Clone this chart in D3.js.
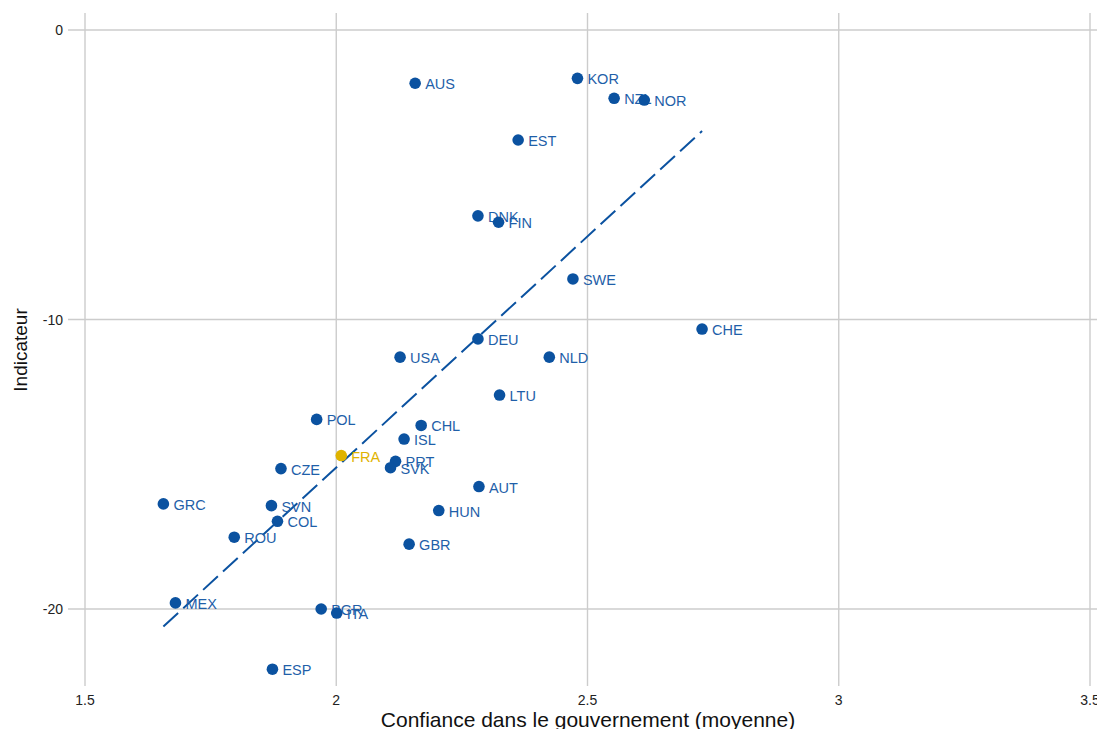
<!DOCTYPE html>
<html>
<head>
<meta charset="utf-8">
<script src="https://cdn.jsdelivr.net/npm/d3@7"></script>
<style>
body { margin: 0; background: #fff; }
text { font-family: "Liberation Sans", Arial, sans-serif; }
</style>
</head>
<body>
<script>
// données
var pays = ["AUS","KOR","NZL","NOR","EST","DNK","FIN","SWE","CHE","DEU","USA","NLD","LTU","POL","CHL","ISL","FRA","PRT","SVK","CZE","AUT","GRC","SVN","HUN","COL","ROU","GBR","MEX","BGR","ITA","ESP"];
var confiance = [2.157,2.480,2.553,2.613,2.362,2.282,2.323,2.471,2.728,2.282,2.127,2.424,2.325,1.961,2.169,2.135,2.010,2.118,2.108,1.890,2.284,1.656,1.871,2.204,1.883,1.797,2.145,1.680,1.970,2.001,1.873];
var indicateur = [-1.84,-1.67,-2.36,-2.42,-3.80,-6.42,-6.64,-8.60,-10.33,-10.67,-11.30,-11.30,-12.61,-13.45,-13.66,-14.13,-14.70,-14.90,-15.12,-15.15,-15.77,-16.37,-16.43,-16.60,-16.97,-17.52,-17.76,-19.79,-20.00,-20.14,-22.08];
var xTicks = [1.5, 2, 2.5, 3, 3.5];
var yTicks = [0, -10, -20];

var width = 1097, height = 729;
var svg = d3.select("body").append("svg")
	.attr("width", width)
	.attr("height", height);

var x = d3.scaleLinear().domain([1.5, 3.5]).range([85, 1090]);
var y = d3.scaleLinear().domain([0, -20]).range([30, 609]);

var bleu = "#0b52a0", bleuTexte = "#1f5fa9", jaune = "#dfb300";

// grille
svg.selectAll(".gx").data(xTicks).enter().append("line")
	.attr("x1", d => x(d)).attr("x2", d => x(d))
	.attr("y1", 13).attr("y2", 686)
	.attr("stroke", "#cccccc").attr("stroke-width", 1.4);
svg.selectAll(".gy").data(yTicks).enter().append("line")
	.attr("x1", 68).attr("x2", width)
	.attr("y1", d => y(d)).attr("y2", d => y(d))
	.attr("stroke", "#cccccc").attr("stroke-width", 1.4);

// étiquettes des axes
svg.selectAll(".tx").data(xTicks).enter().append("text")
	.attr("x", d => x(d)).attr("y", 705)
	.attr("text-anchor", "middle").attr("font-size", 14).attr("fill", "#222")
	.text(d => d);
svg.selectAll(".ty").data(yTicks).enter().append("text")
	.attr("x", 63).attr("y", d => y(d) + 5)
	.attr("text-anchor", "end").attr("font-size", 14).attr("fill", "#222")
	.text(d => d);

svg.append("text").attr("x", 588).attr("y", 727)
	.attr("text-anchor", "middle").attr("font-size", 21).attr("fill", "#111")
	.text("Confiance dans le gouvernement (moyenne)");
svg.append("text").attr("transform", "translate(27," + 350 + ") rotate(-90)")
	.attr("text-anchor", "middle").attr("font-size", 19).attr("fill", "#111")
	.text("Indicateur");

// droite de régression (moindres carrés)
var mx = d3.mean(confiance), my = d3.mean(indicateur);
var sxy = d3.sum(confiance, (v, i) => (v - mx) * (indicateur[i] - my));
var sxx = d3.sum(confiance, v => (v - mx) * (v - mx));
var pente = sxy / sxx, ordonnee = my - pente * mx;
var xmin = d3.min(confiance), xmax = d3.max(confiance);
svg.append("line")
	.attr("x1", x(xmin)).attr("y1", y(ordonnee + pente * xmin))
	.attr("x2", x(xmax)).attr("y2", y(ordonnee + pente * xmax))
	.attr("stroke", bleu).attr("stroke-width", 2)
	.attr("stroke-dasharray", "20,7");

// points
var pts = svg.selectAll(".pt").data(pays).enter().append("g");
pts.append("circle")
	.attr("cx", (d, i) => x(confiance[i]))
	.attr("cy", (d, i) => y(indicateur[i]))
	.attr("r", 5.8)
	.attr("fill", d => d === "FRA" ? jaune : bleu);
pts.append("text")
	.attr("x", (d, i) => x(confiance[i]) + 10)
	.attr("y", (d, i) => y(indicateur[i]) + 6)
	.attr("font-size", 14.5)
	.attr("fill", d => d === "FRA" ? jaune : bleuTexte)
	.text(d => d);
</script>
</body>
</html>
